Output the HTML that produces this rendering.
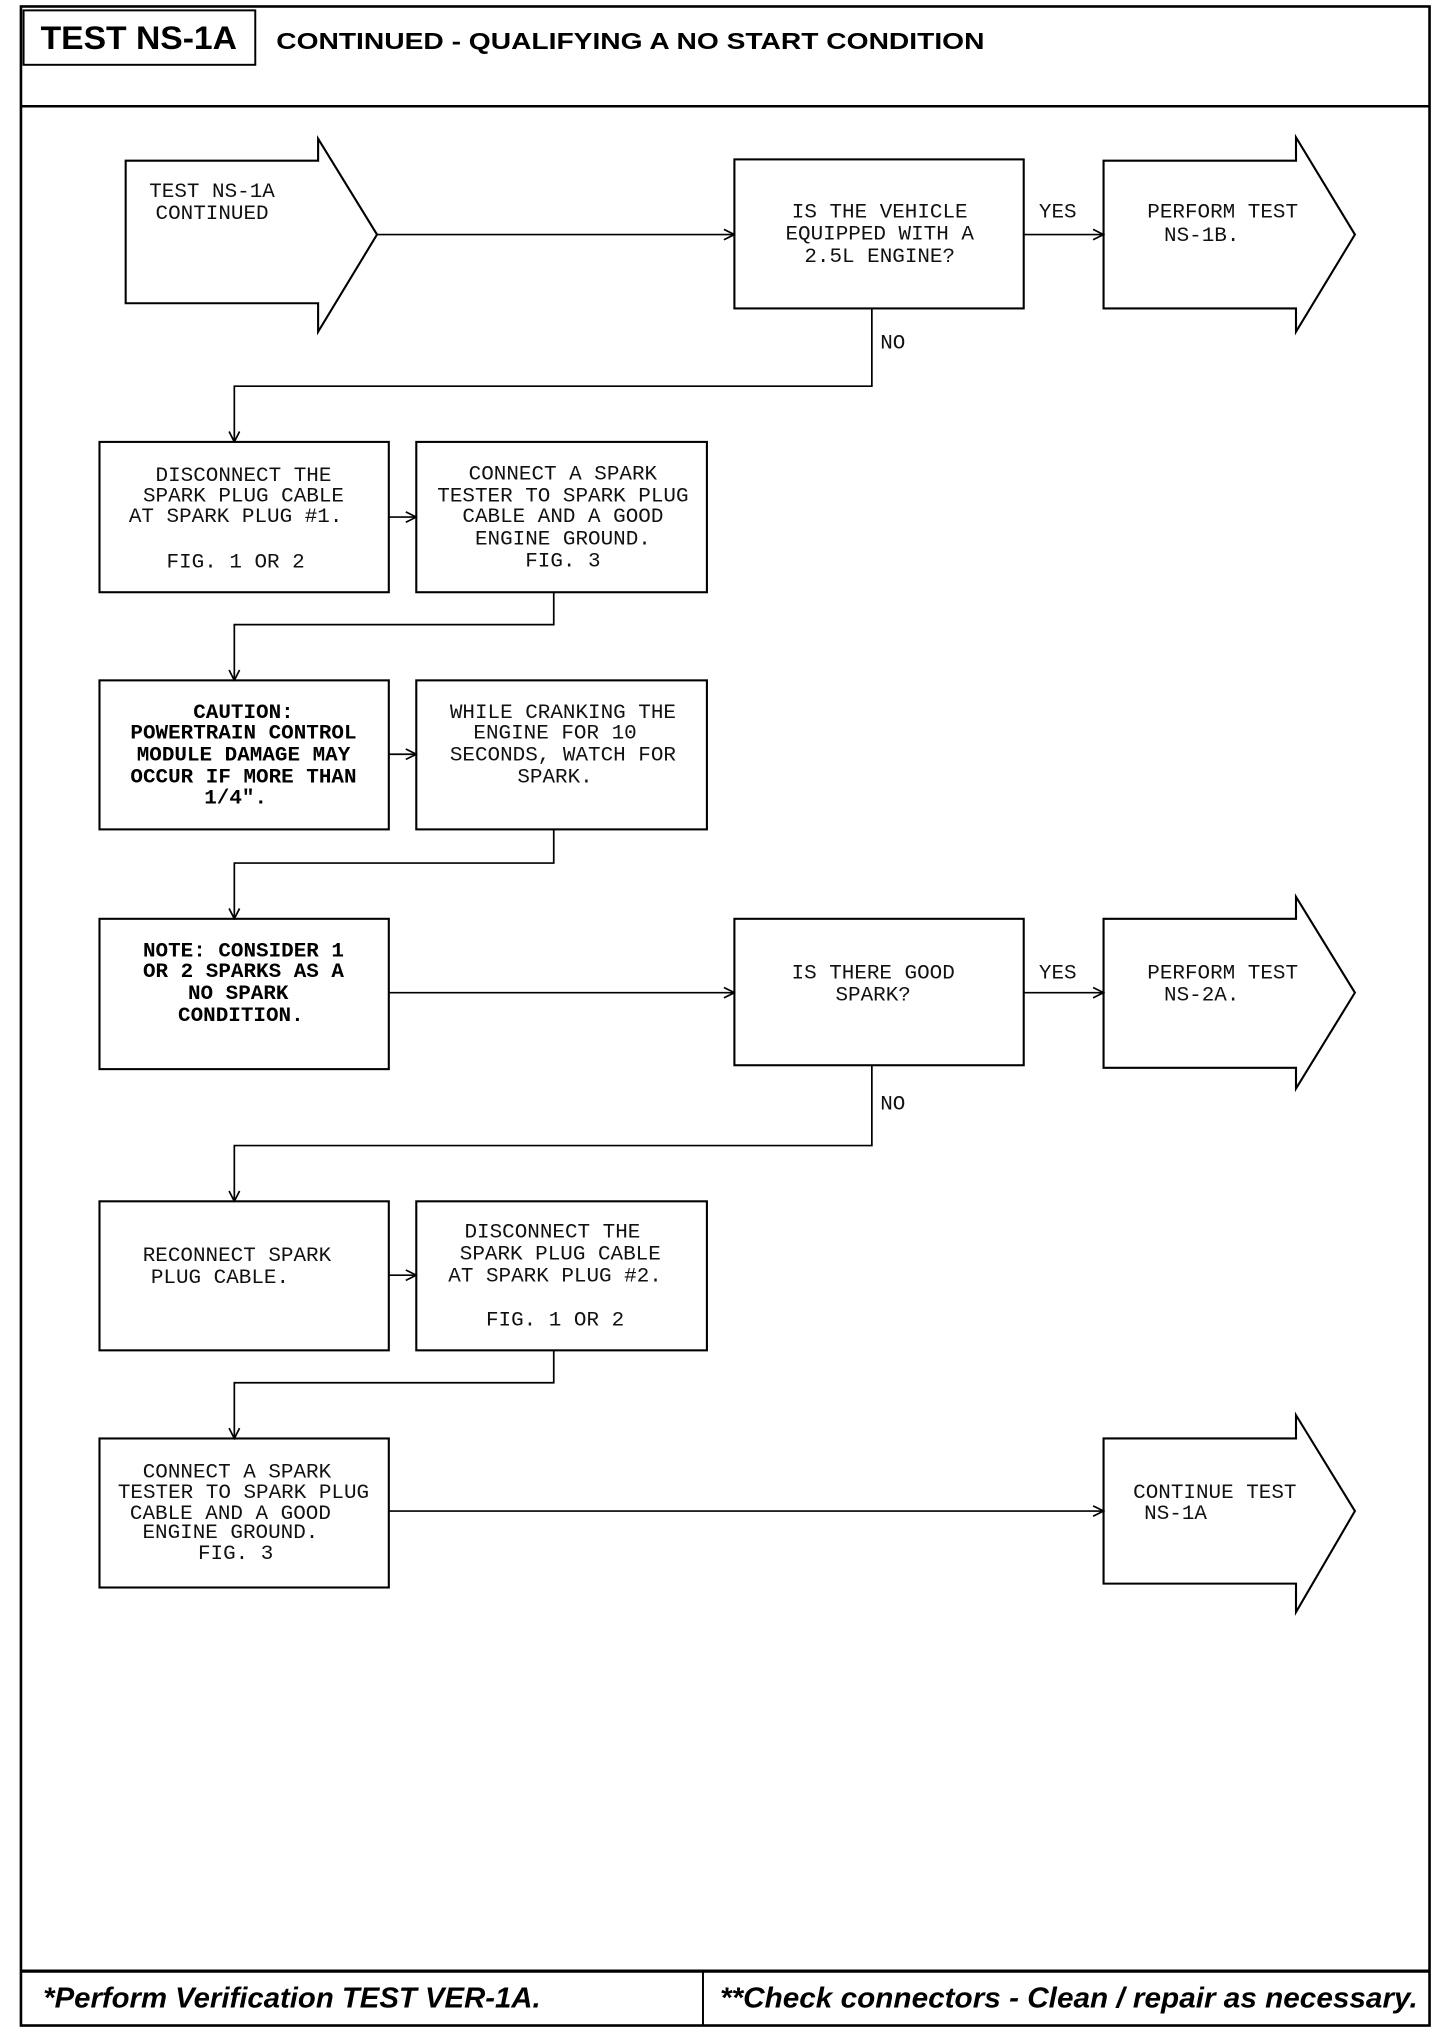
<!DOCTYPE html>
<html><head><meta charset="utf-8"><style>
html,body{margin:0;padding:0;background:#fff;}
svg{display:block;}
.m{font-family:"Liberation Mono",monospace;font-size:16px;fill:#111;text-anchor:middle;}
.mb{font-family:"Liberation Mono",monospace;font-size:16px;fill:#000;text-anchor:middle;font-weight:bold;}
</style></head><body>
<svg width="1440" height="2032" viewBox="0 0 1100 1568" preserveAspectRatio="none" xmlns="http://www.w3.org/2000/svg">
<defs><marker id="a" markerWidth="10" markerHeight="10" refX="9" refY="5" orient="auto" markerUnits="userSpaceOnUse"><path d="M1,1 L9,5 L1,9" fill="none" stroke="#000" stroke-width="1.3"/></marker></defs>
<g fill="none" stroke="#000">
<rect x="16" y="5" width="1076" height="1558" stroke-width="2"/>
<rect x="18" y="8" width="177" height="42" stroke-width="1.5"/>
<line x1="16" y1="82" x2="1092" y2="82" stroke-width="2"/>
<line x1="16" y1="1521" x2="1092" y2="1521" stroke-width="2.5"/>
<line x1="537" y1="1521" x2="537" y2="1563" stroke-width="1.5"/>
<g stroke-width="1.6">
<polygon points="96,124 243,124 243,107 288,181 243,256 243,234 96,234"/>
<rect x="561" y="123" width="221" height="115"/>
<polygon points="843,124 990,124 990,106 1035,181 990,256 990,238 843,238"/>
<rect x="76" y="341" width="221" height="116"/>
<rect x="318" y="341" width="222" height="116"/>
<rect x="76" y="525" width="221" height="115"/>
<rect x="318" y="525" width="222" height="115"/>
<rect x="76" y="709" width="221" height="116"/>
<rect x="561" y="709" width="221" height="113"/>
<polygon points="843,709 990,709 990,692 1035,766 990,840 990,824 843,824"/>
<rect x="76" y="927" width="221" height="115"/>
<rect x="318" y="927" width="222" height="115"/>
<rect x="76" y="1110" width="221" height="115"/>
<polygon points="843,1110 990,1110 990,1092 1035,1166 990,1244 990,1222 843,1222"/>
</g>
<g stroke-width="1.3">
<line x1="288" y1="181" x2="561" y2="181" marker-end="url(#a)"/>
<line x1="782" y1="181" x2="843" y2="181" marker-end="url(#a)"/>
<polyline points="666,238 666,298 179,298 179,341" marker-end="url(#a)"/>
<line x1="297" y1="399" x2="318" y2="399" marker-end="url(#a)"/>
<polyline points="423,457 423,482 179,482 179,525" marker-end="url(#a)"/>
<line x1="297" y1="582" x2="318" y2="582" marker-end="url(#a)"/>
<polyline points="423,640 423,666 179,666 179,709" marker-end="url(#a)"/>
<line x1="297" y1="766" x2="561" y2="766" marker-end="url(#a)"/>
<line x1="782" y1="766" x2="843" y2="766" marker-end="url(#a)"/>
<polyline points="666,822 666,884 179,884 179,927" marker-end="url(#a)"/>
<line x1="297" y1="984" x2="318" y2="984" marker-end="url(#a)"/>
<polyline points="423,1042 423,1067 179,1067 179,1110" marker-end="url(#a)"/>
<line x1="297" y1="1166" x2="843" y2="1166" marker-end="url(#a)"/>
</g>
</g>
<text x="106" y="38" font-family="Liberation Sans,sans-serif" font-weight="bold" font-size="25" text-anchor="middle" textLength="150" lengthAdjust="spacingAndGlyphs">TEST NS-1A</text>
<text x="211" y="38" font-family="Liberation Sans,sans-serif" font-weight="bold" font-size="18" textLength="541" lengthAdjust="spacingAndGlyphs">CONTINUED - QUALIFYING A NO START CONDITION</text>
<text x="33" y="1549" font-family="Liberation Sans,sans-serif" font-weight="bold" font-style="italic" font-size="22" textLength="380" lengthAdjust="spacingAndGlyphs">*Perform Verification TEST VER-1A.</text>
<text x="550" y="1549" font-family="Liberation Sans,sans-serif" font-weight="bold" font-style="italic" font-size="22" textLength="533" lengthAdjust="spacingAndGlyphs">**Check connectors - Clean / repair as necessary.</text>

<text class="m" x="162" y="152">TEST NS-1A</text>
<text class="m" x="162" y="169">CONTINUED</text>
<text class="m" x="672" y="168">IS THE VEHICLE</text>
<text class="m" x="672" y="185">EQUIPPED WITH A</text>
<text class="m" x="672" y="202">2.5L ENGINE?</text>
<text class="m" x="808" y="168">YES</text>
<text class="m" x="934" y="168">PERFORM TEST</text>
<text class="m" x="918" y="186">NS-1B.</text>
<text class="m" x="682" y="269">NO</text>

<text class="m" x="186" y="371">DISCONNECT THE</text>
<text class="m" x="186" y="387">SPARK PLUG CABLE</text>
<text class="m" x="180" y="403">AT SPARK PLUG #1.</text>
<text class="m" x="180" y="438">FIG. 1 OR 2</text>
<text class="m" x="430" y="370">CONNECT A SPARK</text>
<text class="m" x="430" y="387">TESTER TO SPARK PLUG</text>
<text class="m" x="430" y="403">CABLE AND A GOOD</text>
<text class="m" x="430" y="420">ENGINE GROUND.</text>
<text class="m" x="430" y="437">FIG. 3</text>

<text class="mb" x="186" y="554">CAUTION:</text>
<text class="mb" x="186" y="570">POWERTRAIN CONTROL</text>
<text class="mb" x="186" y="587">MODULE DAMAGE MAY</text>
<text class="mb" x="186" y="604">OCCUR IF MORE THAN</text>
<text class="mb" x="180" y="620">1/4".</text>
<text class="m" x="430" y="554">WHILE CRANKING THE</text>
<text class="m" x="424" y="570">ENGINE FOR 10</text>
<text class="m" x="430" y="587">SECONDS, WATCH FOR</text>
<text class="m" x="424" y="604">SPARK.</text>

<text class="mb" x="186" y="738">NOTE: CONSIDER 1</text>
<text class="mb" x="186" y="754">OR 2 SPARKS AS A</text>
<text class="mb" x="182" y="771">NO SPARK</text>
<text class="mb" x="184" y="788">CONDITION.</text>
<text class="m" x="667" y="755">IS THERE GOOD</text>
<text class="m" x="667" y="772">SPARK?</text>
<text class="m" x="808" y="755">YES</text>
<text class="m" x="934" y="755">PERFORM TEST</text>
<text class="m" x="918" y="772">NS-2A.</text>
<text class="m" x="682" y="856">NO</text>

<text class="m" x="181" y="973">RECONNECT SPARK</text>
<text class="m" x="168" y="990">PLUG CABLE.</text>
<text class="m" x="422" y="955">DISCONNECT THE</text>
<text class="m" x="428" y="972">SPARK PLUG CABLE</text>
<text class="m" x="424" y="989">AT SPARK PLUG #2.</text>
<text class="m" x="424" y="1023">FIG. 1 OR 2</text>

<text class="m" x="181" y="1140">CONNECT A SPARK</text>
<text class="m" x="186" y="1156">TESTER TO SPARK PLUG</text>
<text class="m" x="176" y="1172">CABLE AND A GOOD</text>
<text class="m" x="176" y="1187">ENGINE GROUND.</text>
<text class="m" x="180" y="1203">FIG. 3</text>
<text class="m" x="928" y="1156">CONTINUE TEST</text>
<text class="m" x="898" y="1172">NS-1A</text>
</svg>
</body></html>
